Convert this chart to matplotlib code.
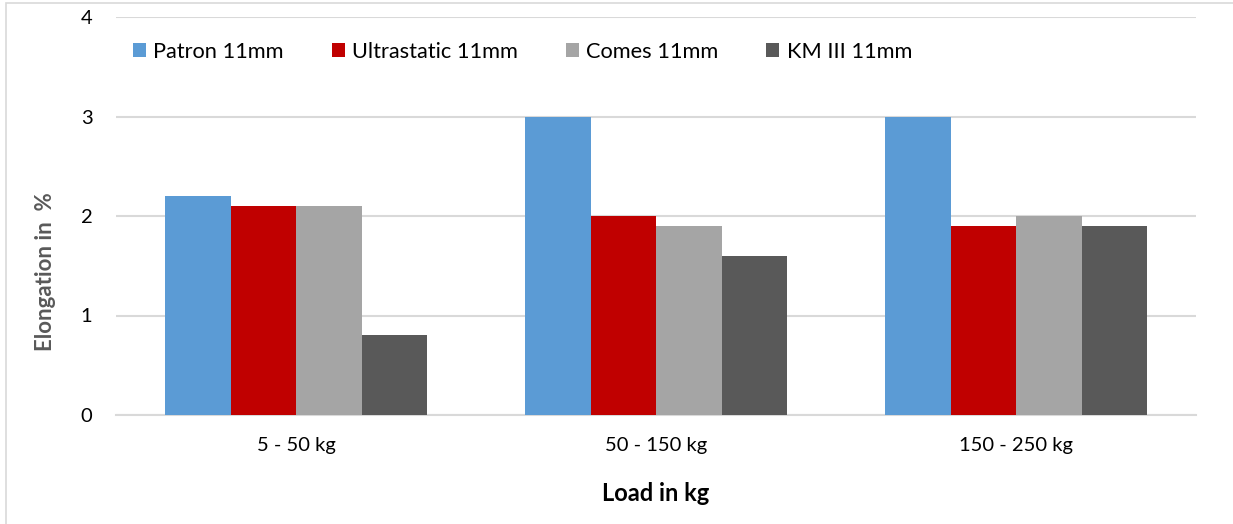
import matplotlib
matplotlib.use("Agg")
import matplotlib.pyplot as plt
from matplotlib.patches import Rectangle
import numpy as np

categories = ["5 - 50 kg", "50 - 150 kg", "150 - 250 kg"]
series_names = ["Patron 11mm", "Ultrastatic 11mm", "Comes 11mm", "KM III 11mm"]
patron = [2.2, 3.0, 3.0]
ultrastatic = [2.1, 2.0, 1.9]
comes = [2.1, 1.9, 2.0]
km3 = [0.8, 1.6, 1.9]
yticks = [0, 1, 2, 3, 4]

colors = ["#5b9bd5", "#c00000", "#a5a5a5", "#595959"]
series = [patron, ultrastatic, comes, km3]

plt.rcParams['font.family'] = ['Lato', 'DejaVu Sans']

W, H = 1233, 524
fig = plt.figure(figsize=(W / 100, H / 100), dpi=100)
ax = fig.add_axes([116 / W, 1 - 415 / H, (1196 - 116) / W, (415 - 17) / H])

x = np.arange(len(categories))
bw = 262 / 360 / 4
for i, (vals, name, c) in enumerate(zip(series, series_names, colors)):
    ax.bar(x + (i - 1.5) * bw, vals, width=bw, color=c, label=name, zorder=3)

ax.set_xlim(-0.5, len(categories) - 0.5)
ax.set_ylim(0, 4)
ax.set_yticks(yticks)
ax.set_yticklabels([str(v) for v in yticks])
ax.set_xticks(x)
ax.set_xticklabels(categories)
ax.tick_params(axis='both', length=0, labelsize=14.5, colors='black')
ax.tick_params(axis='y', pad=17)
ax.tick_params(axis='x', pad=16)
ax.grid(axis='y', color='#d9d9d9', linewidth=1.5, zorder=0)
for s in ['left', 'right', 'top']:
    ax.spines[s].set_visible(False)
ax.spines['bottom'].set_color('#d9d9d9')
ax.spines['bottom'].set_linewidth(1.5)

ax.set_ylabel("Elongation in  %", fontsize=16, fontweight='bold', color='#595959')
ax.yaxis.set_label_coords(-0.0556, 0.36)
ax.set_xlabel("Load in kg", fontsize=17, fontweight='bold', color='black')
ax.xaxis.set_label_coords(0.5, -0.168)

leg = ax.legend(ncol=4, loc='center left', bbox_to_anchor=(17 / 1080, 0.912),
                frameon=False, fontsize=15.7, handlelength=0.6, handleheight=0.6,
                handletextpad=0.33, columnspacing=2.2, borderpad=0, borderaxespad=0)

fig.patches.append(Rectangle((6 / W, -0.1), 1.2, 1 - 2.5 / H + 0.1, transform=fig.transFigure,
                             fill=False, edgecolor='#d9d9d9', linewidth=1.2))

fig.savefig("out.png", dpi=100)
